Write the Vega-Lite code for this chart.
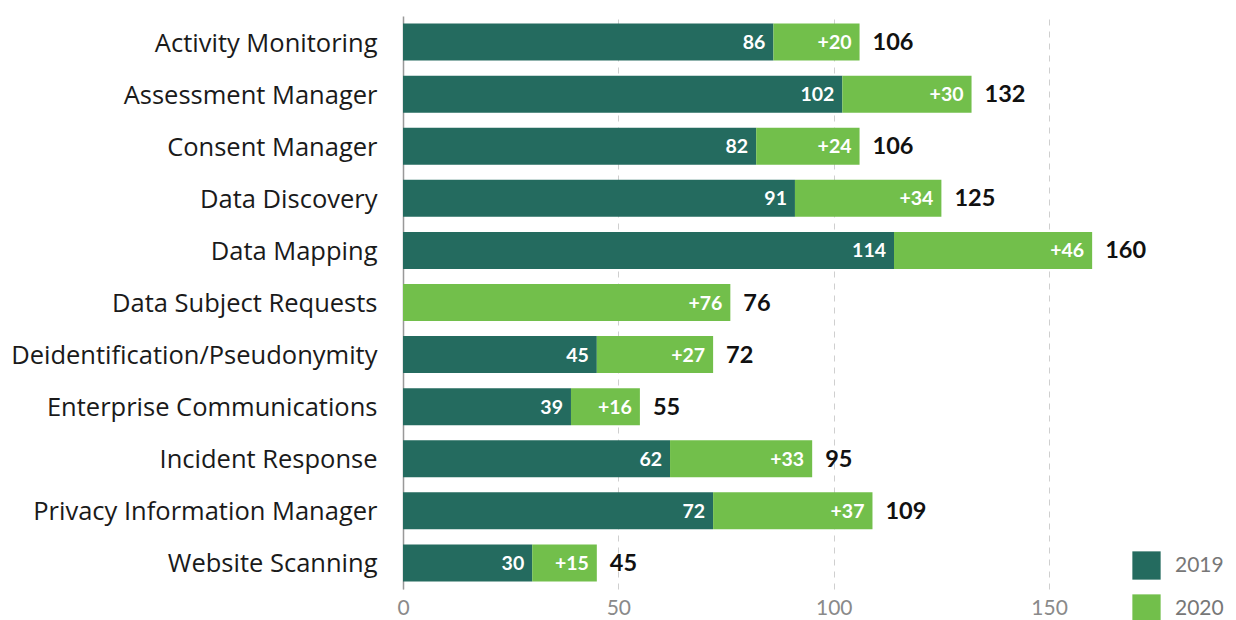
{
  "$schema": "https://vega.github.io/schema/vega-lite/v6.json",
  "width": 833,
  "height": 573,
  "autosize": {"type": "none"},
  "padding": {"left": 403, "top": 16, "right": 0, "bottom": 31},
  "background": "white",
  "config": {
    "font": "Lato",
    "view": {"stroke": null}
  },
  "data": {
    "values": [
      {"category": "Activity Monitoring", "year": "2019", "value": 86},
      {"category": "Activity Monitoring", "year": "2020", "value": 20},
      {"category": "Assessment Manager", "year": "2019", "value": 102},
      {"category": "Assessment Manager", "year": "2020", "value": 30},
      {"category": "Consent Manager", "year": "2019", "value": 82},
      {"category": "Consent Manager", "year": "2020", "value": 24},
      {"category": "Data Discovery", "year": "2019", "value": 91},
      {"category": "Data Discovery", "year": "2020", "value": 34},
      {"category": "Data Mapping", "year": "2019", "value": 114},
      {"category": "Data Mapping", "year": "2020", "value": 46},
      {"category": "Data Subject Requests", "year": "2020", "value": 76},
      {"category": "Deidentification/Pseudonymity", "year": "2019", "value": 45},
      {"category": "Deidentification/Pseudonymity", "year": "2020", "value": 27},
      {"category": "Enterprise Communications", "year": "2019", "value": 39},
      {"category": "Enterprise Communications", "year": "2020", "value": 16},
      {"category": "Incident Response", "year": "2019", "value": 62},
      {"category": "Incident Response", "year": "2020", "value": 33},
      {"category": "Privacy Information Manager", "year": "2019", "value": 72},
      {"category": "Privacy Information Manager", "year": "2020", "value": 37},
      {"category": "Website Scanning", "year": "2019", "value": 30},
      {"category": "Website Scanning", "year": "2020", "value": 15}
    ]
  },
  "transform": [
    {"stack": "value", "groupby": ["category"], "sort": [{"field": "year", "order": "ascending"}], "as": ["x0", "x1"]}
  ],
  "encoding": {
    "y": {
      "field": "category",
      "type": "nominal",
      "sort": null,
      "scale": {"paddingInner": 0.29, "paddingOuter": 0.145},
      "axis": {
        "title": null,
        "ticks": false,
        "domain": true,
        "domainColor": "#999999",
        "domainWidth": 1.5,
        "labelFont": "Open Sans",
        "labelFontSize": 25.5,
        "labelColor": "#1a1a1a",
        "labelPadding": 26,
        "labelOffset": 1.5,
        "labelLimit": 500
      }
    }
  },
  "layer": [
    {
      "mark": {"type": "bar"},
      "encoding": {
        "x": {
          "field": "x0",
          "type": "quantitative",
          "scale": {"domain": [0, 193.4], "nice": false, "zero": true},
          "axis": {
            "title": null,
            "values": [0, 50, 100, 150],
            "grid": true,
            "gridDash": [6, 6],
            "gridColor": "#cfcfcf",
            "gridWidth": 1,
            "domain": false,
            "ticks": false,
            "labelFlush": false,
            "labelFontSize": 21,
            "labelColor": "#8a8a8a",
            "labelPadding": 8
          }
        },
        "x2": {"field": "x1"},
        "color": {
          "field": "year",
          "type": "nominal",
          "scale": {"domain": ["2019", "2020"], "range": ["#246B5F", "#72BF4B"]},
          "legend": {
            "title": null,
            "orient": "none",
            "legendX": 729,
            "legendY": 535,
            "symbolType": "square",
            "symbolSize": 800,
            "symbolStrokeWidth": 0,
            "symbolOpacity": 1,
            "labelFontSize": 21,
            "labelColor": "#777777",
            "labelOffset": 14,
            "rowPadding": 14,
            "padding": 0
          }
        }
      }
    },
    {
      "transform": [{"filter": "datum.year == '2019'"}],
      "mark": {"type": "text", "align": "right", "baseline": "middle", "dx": -8, "dy": 1, "fontSize": 19.5, "fontWeight": "bold", "color": "white"},
      "encoding": {
        "x": {"field": "x1", "type": "quantitative"},
        "text": {"field": "value", "type": "quantitative", "format": "d"}
      }
    },
    {
      "transform": [{"filter": "datum.year == '2020'"}],
      "mark": {"type": "text", "align": "right", "baseline": "middle", "dx": -8, "dy": 1, "fontSize": 19.5, "fontWeight": "bold", "color": "white"},
      "encoding": {
        "x": {"field": "x1", "type": "quantitative"},
        "text": {"field": "value", "type": "quantitative", "format": "+d"}
      }
    },
    {
      "transform": [{"filter": "datum.year == '2020'"}],
      "mark": {"type": "text", "align": "left", "baseline": "middle", "dx": 13, "dy": 1, "fontSize": 23.5, "fontWeight": "bold", "color": "#111111"},
      "encoding": {
        "x": {"field": "x1", "type": "quantitative"},
        "text": {"field": "x1", "type": "quantitative", "format": "d"}
      }
    }
  ]
}
